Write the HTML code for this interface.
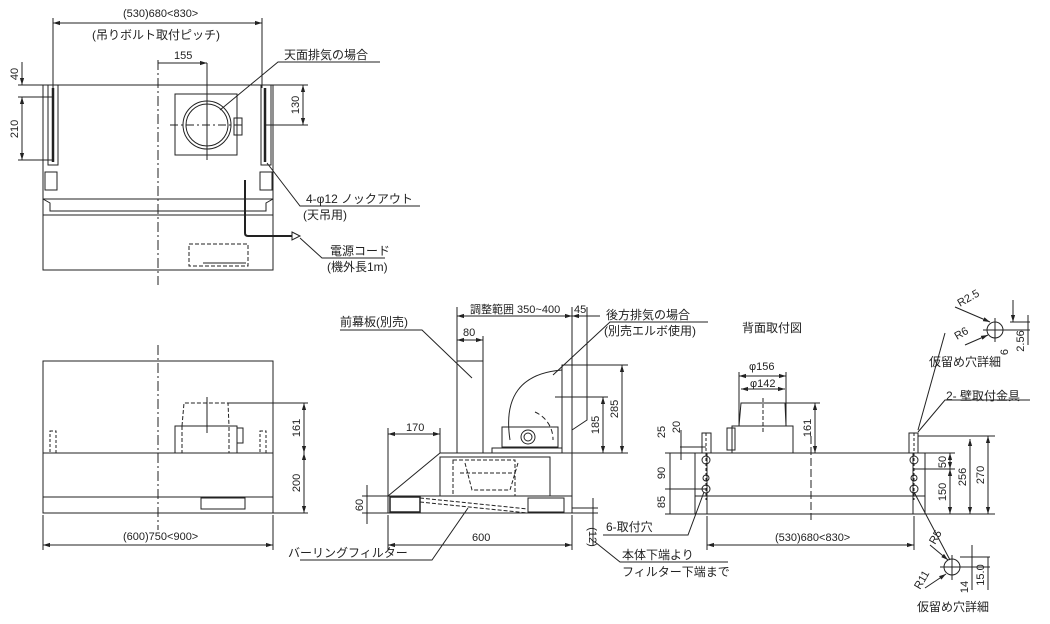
<!DOCTYPE html>
<html><head><meta charset="utf-8"><style>
html,body{margin:0;padding:0;background:#fff;}
svg{display:block;}
text{font-family:"Liberation Sans","Noto Sans CJK JP",sans-serif;fill:#222;}
.t{font-size:12px;}
.d{font-size:11px;}
</style></head><body>
<svg width="1050" height="624" viewBox="0 0 1050 624" xmlns="http://www.w3.org/2000/svg">
<defs>
<marker id="a" viewBox="0 0 10 10" refX="10" refY="5" markerWidth="7" markerHeight="7" orient="auto-start-reverse"><path d="M0,2L10,5L0,8z" fill="#222"/></marker>
</defs>
<g stroke="#222" stroke-width="1" fill="none">
<!-- ===== TOP VIEW ===== -->
<rect x="43" y="85" width="230" height="185"/>
<line x1="43" y1="199" x2="273" y2="199"/>
<polyline points="43,199 50,203 50,211 266,211 266,203 273,199"/>
<line x1="43" y1="215" x2="273" y2="215"/>
<rect x="48" y="85" width="10" height="80"/>
<line x1="53" y1="88" x2="53" y2="162" stroke-width="2.5"/>
<rect x="261" y="85" width="10" height="80"/>
<line x1="265" y1="88" x2="265" y2="162" stroke-width="2.5"/>
<rect x="45" y="172" width="12" height="18"/>
<rect x="260" y="172" width="12" height="18"/>
<rect x="175" y="94" width="62" height="61"/>
<circle cx="207" cy="125" r="24"/>
<circle cx="207" cy="125" r="21"/>
<rect x="234" y="118" width="8" height="17"/>
<line x1="170" y1="125" x2="245" y2="125" stroke-dasharray="8,3,2,3"/>
<line x1="207" y1="63" x2="207" y2="160"/>
<line x1="158" y1="60" x2="158" y2="285" stroke-dasharray="10,3,2,3"/>
<path d="M245,180 V233 Q245,236 248,236 H292" stroke-width="2"/>
<path d="M292,232 L300,236 L292,240 z"/>
<rect x="189" y="244" width="59" height="22" stroke-dasharray="4,2"/>
<line x1="203" y1="263" x2="246" y2="263"/>
<!-- top dims -->
<line x1="53" y1="23" x2="262" y2="23" marker-start="url(#a)" marker-end="url(#a)"/>
<line x1="53" y1="18" x2="53" y2="88"/><line x1="262" y1="18" x2="262" y2="88"/>
<line x1="158" y1="63" x2="207" y2="63" marker-end="url(#a)"/>
<line x1="18" y1="85" x2="43" y2="85"/><line x1="18" y1="97" x2="53" y2="97"/><line x1="18" y1="160" x2="53" y2="160"/>
<line x1="22" y1="62" x2="22" y2="85" marker-end="url(#a)"/>
<line x1="22" y1="97" x2="22" y2="160" marker-start="url(#a)" marker-end="url(#a)"/>
<line x1="273" y1="85" x2="308" y2="85"/><line x1="265" y1="125" x2="308" y2="125"/>
<line x1="303" y1="85" x2="303" y2="125" marker-start="url(#a)" marker-end="url(#a)"/>
<!-- leaders -->
<polyline points="220,110 278,62 380,62"/>
<polyline points="267,163 300,206 420,206"/>
<polyline points="300,238 322,258 385,258"/>
<!-- ===== FRONT VIEW ===== -->
<rect x="43" y="361" width="230" height="152"/>
<line x1="43" y1="453" x2="273" y2="453"/>
<line x1="43" y1="497" x2="273" y2="497"/>
<line x1="158" y1="345" x2="158" y2="530" stroke-dasharray="10,3,2,3"/>
<rect x="175" y="426" width="62" height="27"/>
<rect x="182" y="426" width="47" height="27" stroke-dasharray="4,2"/>
<polyline points="182,426 184,403 228,403 229,426" stroke-dasharray="4,2"/>
<line x1="207" y1="397" x2="207" y2="433"/>
<rect x="237" y="428" width="6" height="15"/>
<rect x="50" y="431" width="6" height="22" stroke-dasharray="3,2"/>
<rect x="260" y="431" width="6" height="22" stroke-dasharray="3,2"/>
<rect x="201" y="498" width="44" height="11"/>
<line x1="228" y1="403" x2="308" y2="403"/><line x1="273" y1="513" x2="308" y2="513"/>
<line x1="304" y1="403" x2="304" y2="453" marker-start="url(#a)" marker-end="url(#a)"/>
<line x1="304" y1="453" x2="304" y2="513" marker-start="url(#a)" marker-end="url(#a)"/>
<line x1="43" y1="515" x2="43" y2="550"/><line x1="273" y1="515" x2="273" y2="550"/>
<line x1="43" y1="545" x2="273" y2="545" marker-start="url(#a)" marker-end="url(#a)"/>
<!-- ===== SIDE VIEW ===== -->
<polyline points="388,496 440,453 572,453 572,513 388,513 388,496 572,496"/>
<rect x="457" y="361" width="26" height="92"/>
<rect x="440" y="457" width="110" height="39"/>
<rect x="453" y="460" width="62" height="36" stroke-dasharray="4,2"/>
<path d="M465,463 L472,490 H510 L518,463" stroke-dasharray="4,2"/>
<line x1="460" y1="473" x2="515" y2="473" stroke-dasharray="4,2"/>
<rect x="390" y="497" width="30" height="15" stroke-width="1.5"/>
<line x1="420" y1="498" x2="528" y2="509" stroke-dasharray="4,2"/>
<line x1="420" y1="502" x2="528" y2="513" stroke-dasharray="4,2"/>
<rect x="528" y="498" width="36" height="14"/>
<rect x="562" y="365" width="10" height="88"/>
<path d="M562,365 H587 V420 L572,430"/>
<path d="M562,370 Q500,375 510,440" />
<rect x="502" y="427" width="56" height="20"/>
<circle cx="528" cy="437" r="7"/><circle cx="528" cy="437" r="4"/>
<rect x="492" y="448" width="70" height="5"/>
<path d="M535,412 A30,30 0 0 1 553,440" stroke-dasharray="5,3"/>
<!-- side dims -->
<line x1="457" y1="307" x2="457" y2="361"/><line x1="572" y1="307" x2="572" y2="453"/><line x1="587" y1="307" x2="587" y2="365"/>
<line x1="457" y1="316" x2="572" y2="316" marker-start="url(#a)" marker-end="url(#a)"/>
<line x1="572" y1="316" x2="600" y2="316" marker-start="url(#a)"/>
<line x1="483" y1="336" x2="483" y2="361"/>
<line x1="457" y1="340" x2="483" y2="340" marker-start="url(#a)" marker-end="url(#a)"/>
<line x1="388" y1="428" x2="388" y2="496"/><line x1="440" y1="428" x2="440" y2="453"/>
<line x1="388" y1="434" x2="440" y2="434" marker-start="url(#a)" marker-end="url(#a)"/>
<line x1="388" y1="515" x2="388" y2="550"/><line x1="572" y1="515" x2="572" y2="550"/>
<line x1="388" y1="545" x2="572" y2="545" marker-start="url(#a)" marker-end="url(#a)"/>
<line x1="362" y1="496" x2="388" y2="496"/><line x1="362" y1="513" x2="388" y2="513"/>
<line x1="367" y1="485" x2="367" y2="524"/>
<line x1="572" y1="508" x2="598" y2="508"/><line x1="572" y1="513" x2="598" y2="513"/>
<line x1="593" y1="498" x2="593" y2="545"/>
<line x1="555" y1="397" x2="608" y2="397"/><line x1="560" y1="453" x2="628" y2="453"/><line x1="587" y1="365" x2="628" y2="365"/>
<line x1="603" y1="397" x2="603" y2="453" marker-start="url(#a)" marker-end="url(#a)"/>
<line x1="622" y1="365" x2="622" y2="453" marker-start="url(#a)" marker-end="url(#a)"/>
<polyline points="472,378 422,330 340,330"/>
<polyline points="553,375 610,322 708,322"/>
<polyline points="468,508 432,560 300,560"/>
<polyline points="595,542 620,562 728,562"/>
<!-- ===== REAR VIEW ===== -->
<rect x="695" y="453" width="230" height="61"/>
<line x1="695" y1="496" x2="925" y2="496"/>
<line x1="707" y1="453" x2="707" y2="514"/>
<line x1="913" y1="453" x2="913" y2="514"/>
<rect x="702" y="433" width="9" height="20"/>
<rect x="909" y="433" width="9" height="20"/>
<circle cx="706" cy="460" r="4"/><circle cx="706" cy="478" r="3"/><circle cx="706" cy="489" r="4"/>
<circle cx="914" cy="460" r="4"/><circle cx="914" cy="478" r="3"/><circle cx="914" cy="489" r="4"/>
<line x1="706" y1="433" x2="706" y2="500" stroke-dasharray="3,2"/>
<line x1="914" y1="433" x2="914" y2="500" stroke-dasharray="3,2"/>
<rect x="732" y="426" width="61" height="27"/>
<rect x="727" y="428" width="8" height="22"/>
<polyline points="739,426 741,403 785,403 786,426"/>
<line x1="763" y1="398" x2="763" y2="433" stroke-dasharray="4,2"/>
<line x1="811" y1="436" x2="811" y2="520" stroke-dasharray="8,3"/>
<line x1="739" y1="372" x2="739" y2="426"/><line x1="786" y1="372" x2="786" y2="426"/>
<line x1="739" y1="376" x2="786" y2="376" marker-start="url(#a)" marker-end="url(#a)"/>
<line x1="741" y1="389" x2="785" y2="389" marker-start="url(#a)" marker-end="url(#a)"/>
<line x1="785" y1="403" x2="820" y2="403"/>
<line x1="815" y1="403" x2="815" y2="453" marker-start="url(#a)" marker-end="url(#a)"/>
<line x1="707" y1="516" x2="707" y2="550"/><line x1="914" y1="516" x2="914" y2="550"/>
<line x1="707" y1="545" x2="914" y2="545" marker-start="url(#a)" marker-end="url(#a)"/>
<line x1="665" y1="453" x2="695" y2="453"/><line x1="665" y1="489" x2="706" y2="489"/><line x1="665" y1="514" x2="695" y2="514"/>
<line x1="680" y1="447" x2="706" y2="447"/>
<line x1="670" y1="453" x2="670" y2="514"/>
<line x1="681" y1="430" x2="681" y2="460"/>
<line x1="918" y1="436" x2="995" y2="436"/><line x1="914" y1="469" x2="955" y2="469"/><line x1="925" y1="514" x2="995" y2="514"/><line x1="925" y1="453" x2="955" y2="453"/>
<line x1="950" y1="453" x2="950" y2="469" marker-start="url(#a)" marker-end="url(#a)"/>
<line x1="950" y1="469" x2="950" y2="514" marker-start="url(#a)" marker-end="url(#a)"/>
<line x1="970" y1="439" x2="970" y2="514" marker-start="url(#a)" marker-end="url(#a)"/>
<line x1="988" y1="436" x2="988" y2="514" marker-start="url(#a)" marker-end="url(#a)"/>
<polyline points="704,492 688,535 603,535"/>
<polyline points="945,333 918,430"/>
<polyline points="918,432 945,400 1030,400"/>
<polyline points="914,492 950,560"/>
<!-- detail circles -->
<circle cx="995" cy="330" r="8"/>
<line x1="983" y1="330" x2="1030" y2="330"/><line x1="995" y1="318" x2="995" y2="342"/>
<line x1="1010" y1="322" x2="1030" y2="322"/><line x1="1028" y1="315" x2="1028" y2="345"/>
<line x1="1013" y1="300" x2="1013" y2="322" marker-end="url(#a)"/>
<line x1="955" y1="307" x2="990" y2="322" marker-end="url(#a)"/>
<line x1="965" y1="345" x2="988" y2="335" marker-end="url(#a)"/>
<circle cx="952" cy="567" r="8"/>
<line x1="940" y1="567" x2="990" y2="567"/><line x1="952" y1="555" x2="952" y2="580"/>
<line x1="960" y1="557" x2="990" y2="557"/><line x1="988" y1="557" x2="988" y2="590"/>
<line x1="972" y1="545" x2="972" y2="590"/>
<line x1="930" y1="545" x2="948" y2="560" marker-end="url(#a)"/>
<line x1="925" y1="588" x2="946" y2="574" marker-end="url(#a)"/>
</g>
<!-- TEXT -->
<text class="d" x="123" y="17">(530)680&lt;830&gt;</text>
<text class="t" x="92" y="39">(吊りボルト取付ピッチ)</text>
<text class="d" x="174" y="59">155</text>
<text class="t" x="284" y="59">天面排気の場合</text>
<text class="t" x="306" y="203">4-φ12 ノックアウト</text>
<text class="t" x="303" y="219">(天吊用)</text>
<text class="t" x="330" y="255">電源コード</text>
<text class="t" x="327" y="271">(機外長1m)</text>
<text class="d" transform="translate(18,74) rotate(-90)" text-anchor="middle">40</text>
<text class="d" transform="translate(18,129) rotate(-90)" text-anchor="middle">210</text>
<text class="d" transform="translate(299,105) rotate(-90)" text-anchor="middle">130</text>
<text class="d" transform="translate(300,428) rotate(-90)" text-anchor="middle">161</text>
<text class="d" transform="translate(300,483) rotate(-90)" text-anchor="middle">200</text>
<text class="d" x="123" y="540">(600)750&lt;900&gt;</text>
<text class="t" x="340" y="326">前幕板(別売)</text>
<text class="d" x="470" y="313">調整範囲 350~400</text>
<text class="d" x="574" y="313">45</text>
<text class="d" x="463" y="336">80</text>
<text class="d" x="406" y="431">170</text>
<text class="d" x="472" y="541">600</text>
<text class="t" x="606" y="319">後方排気の場合</text>
<text class="t" x="604" y="335">(別売エルボ使用)</text>
<text class="t" x="742" y="332">背面取付図</text>
<text class="d" transform="translate(363,505) rotate(-90)" text-anchor="middle">60</text>
<text class="d" transform="translate(599,425) rotate(-90)" text-anchor="middle">185</text>
<text class="d" transform="translate(618,409) rotate(-90)" text-anchor="middle">285</text>
<text class="d" transform="translate(589,537) rotate(90)" text-anchor="middle">(12)</text>
<text class="t" x="288" y="557">バーリングフィルター</text>
<text class="t" x="622" y="559">本体下端より</text>
<text class="t" x="622" y="576">フィルター下端まで</text>
<text class="t" x="606" y="531">6-取付穴</text>
<text class="d" x="749" y="370">φ156</text>
<text class="d" x="750" y="387">φ142</text>
<text class="d" transform="translate(811,428) rotate(-90)" text-anchor="middle">161</text>
<text class="d" x="775" y="541">(530)680&lt;830&gt;</text>
<text class="d" transform="translate(665,432) rotate(-90)" text-anchor="middle">25</text>
<text class="d" transform="translate(680,427) rotate(-90)" text-anchor="middle">20</text>
<text class="d" transform="translate(665,473) rotate(-90)" text-anchor="middle">90</text>
<text class="d" transform="translate(665,502) rotate(-90)" text-anchor="middle">85</text>
<text class="d" transform="translate(946,462) rotate(-90)" text-anchor="middle">50</text>
<text class="d" transform="translate(946,492) rotate(-90)" text-anchor="middle">150</text>
<text class="d" transform="translate(966,477) rotate(-90)" text-anchor="middle">256</text>
<text class="d" transform="translate(984,475) rotate(-90)" text-anchor="middle">270</text>
<text class="t" x="946" y="400">2- 壁取付金具</text>
<text class="t" x="929" y="366">仮留め穴詳細</text>
<text class="t" x="917" y="611">仮留め穴詳細</text>
<text class="d" transform="translate(960,307) rotate(-30)">R2.5</text>
<text class="d" transform="translate(957,340) rotate(-30)">R6</text>
<text class="d" transform="translate(1024,341) rotate(-90)" text-anchor="middle">2.56</text>
<text class="d" transform="translate(1008,352) rotate(-90)" text-anchor="middle">6</text>
<text class="d" transform="translate(935,545) rotate(-60)">R5</text>
<text class="d" transform="translate(920,590) rotate(-60)">R11</text>
<text class="d" transform="translate(984,575) rotate(-90)" text-anchor="middle">15.0</text>
<text class="d" transform="translate(968,587) rotate(-90)" text-anchor="middle">14</text>
</svg>
</body></html>
